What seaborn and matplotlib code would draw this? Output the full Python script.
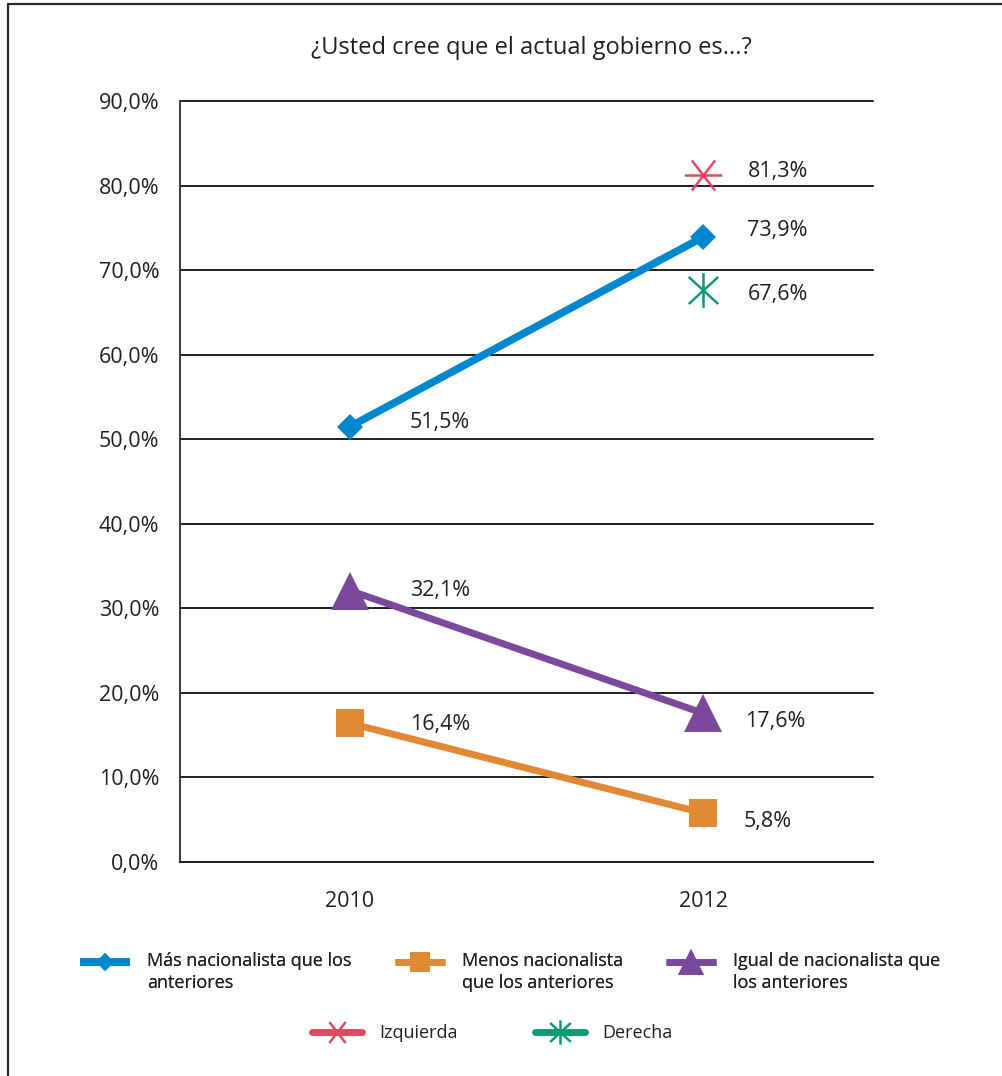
import matplotlib
matplotlib.use("Agg")
import numpy as np
import matplotlib.pyplot as plt
import seaborn as sns
import pandas as pd
from matplotlib.path import Path
from matplotlib.lines import Line2D
from matplotlib.legend_handler import HandlerLine2D

# ---- data ----
years = ["2010", "2012"]
mas_nac = [51.5, 73.9]
menos_nac = [16.4, 5.8]
igual_nac = [32.1, 17.6]
izquierda_year = ["2012"]
izquierda = [81.3]
derecha_year = ["2012"]
derecha = [67.6]
y_ticks = [0, 10, 20, 30, 40, 50, 60, 70, 80, 90]

label_mas = "Más nacionalista que los\nanteriores"
label_menos = "Menos nacionalista\nque los anteriores"
label_igual = "Igual de nacionalista que\nlos anteriores"
label_izq = "Izquierda"
label_der = "Derecha"
title = "¿Usted cree que el actual gobierno es...?"

# ---- style ----
sns.set_theme(style="white")
plt.rcParams['font.family'] = ['Open Sans', 'DejaVu Sans']
TXT = "#231f20"

c_blue = "#0088cf"
c_orange = "#e18835"
c_purple = "#7b489b"
c_red = "#df4a60"
c_green = "#0d9b76"

# custom asterisk markers
red_marker = Path([(-1, 0), (1, 0), (-0.62, -0.8), (0.62, 0.8), (-0.62, 0.8), (0.62, -0.8)],
                  [Path.MOVETO, Path.LINETO, Path.MOVETO, Path.LINETO, Path.MOVETO, Path.LINETO])
green_marker = Path([(0, -1), (0, 1), (-0.85, -0.78), (0.85, 0.78), (-0.85, 0.78), (0.85, -0.78)],
                    [Path.MOVETO, Path.LINETO, Path.MOVETO, Path.LINETO, Path.MOVETO, Path.LINETO])


class RaisedHandler(HandlerLine2D):
    """Line handle aligned with the first line of a two-line label."""
    def __init__(self, dy, **kw):
        super().__init__(**kw)
        self.dy = dy

    def create_artists(self, legend, orig_handle, xdescent, ydescent, width, height,
                       fontsize, trans):
        arts = super().create_artists(legend, orig_handle, xdescent, ydescent, width,
                                      height, fontsize, trans)
        for a in arts:
            a.set_ydata(np.asarray(a.get_ydata(), dtype=float) + self.dy * fontsize)
        return arts


fig = plt.figure(figsize=(10.02, 10.76), dpi=100)
ax = fig.add_axes([0.1796, 0.1989, 0.8713 - 0.1796, 0.9061 - 0.1989])

df_mas = pd.DataFrame({"x": years, "y": mas_nac})
df_menos = pd.DataFrame({"x": years, "y": menos_nac})
df_igual = pd.DataFrame({"x": years, "y": igual_nac})
df_izq = pd.DataFrame({"x": izquierda_year, "y": izquierda})
df_der = pd.DataFrame({"x": derecha_year, "y": derecha})

sns.lineplot(data=df_mas, x="x", y="y", ax=ax, color=c_blue, linewidth=5.5,
             marker="D", markersize=13.5, markeredgewidth=0, label=label_mas,
             solid_capstyle="butt", sort=False)
sns.lineplot(data=df_menos, x="x", y="y", ax=ax, color=c_orange, linewidth=5,
             marker="s", markersize=20, markeredgewidth=0, label=label_menos,
             solid_capstyle="butt", sort=False)
sns.lineplot(data=df_igual, x="x", y="y", ax=ax, color=c_purple, linewidth=5,
             marker="^", markersize=27, markeredgewidth=0, label=label_igual,
             solid_capstyle="butt", sort=False)
sns.lineplot(data=df_izq, x="x", y="y", ax=ax, color=c_red, linewidth=5,
             marker=red_marker, markersize=27, markerfacecolor="none",
             markeredgecolor=c_red, markeredgewidth=1.8, label=label_izq, sort=False)
sns.lineplot(data=df_der, x="x", y="y", ax=ax, color=c_green, linewidth=5,
             marker=green_marker, markersize=25, markerfacecolor="none",
             markeredgecolor=c_green, markeredgewidth=1.8, label=label_der, sort=False)

# data labels
fmt = lambda v: f"{v:.1f}%".replace(".", ",")
label_specs = [
    (years, mas_nac, [(43, 3), (32, 5)]),
    (years, menos_nac, [(43, -1), (29, -6)]),
    (years, igual_nac, [(43, 0), (30, -6)]),
    (izquierda_year, izquierda, [(32, 2)]),
    (derecha_year, derecha, [(32, -3)]),
]
pos = {y: i for i, y in enumerate(years)}
for xs, vals, offs in label_specs:
    for xv, v, (dx, dy) in zip(xs, vals, offs):
        ax.annotate(fmt(v), xy=(pos[xv], v), xytext=(dx, dy), textcoords="offset points",
                    ha="left", va="center", fontsize=15.5, color=TXT)

ax.set_xlim(-0.482, 1.482)
ax.set_ylim(0, 90)
ax.set_yticks(y_ticks)
ax.set_yticklabels([fmt(t) for t in y_ticks])
ax.set_xlabel("")
ax.set_ylabel("")
ax.tick_params(axis="both", length=0, labelsize=15.5, colors=TXT)
ax.tick_params(axis="y", pad=15)
ax.tick_params(axis="x", pad=21)

ax.grid(axis="y", color=TXT, linewidth=1.4)
ax.grid(axis="x", visible=False)
for gl in ax.get_ygridlines():
    gl.set_clip_on(False)
for s in ["top", "right"]:
    ax.spines[s].set_visible(False)
ax.spines["left"].set_color("#3a3a3a")
ax.spines["left"].set_linewidth(1.4)
ax.spines["bottom"].set_color(TXT)
ax.spines["bottom"].set_linewidth(1.4)

fig.text(0.53, 1 - 48 / 1076, title, ha="center", va="center", fontsize=17, color=TXT)

# legends
handles, labels = ax.get_legend_handles_labels()
ax.get_legend().remove()
raised = {h: RaisedHandler(0.6) for h in handles[:3]}
leg1 = fig.legend(handles[:3], labels[:3], ncol=3, loc="center",
                  bbox_to_anchor=(0.509, 1 - 972 / 1076), frameon=False,
                  fontsize=13, handlelength=2.77, handletextpad=0.94,
                  columnspacing=2.4, markerscale=0.7, labelcolor=TXT,
                  handler_map=raised)
for t in leg1.get_texts():
    t.set_linespacing(1.3)
leg2 = fig.legend(handles[3:], labels[3:], ncol=2, loc="center",
                  bbox_to_anchor=(0.491, 1 - 1033 / 1076), frameon=False,
                  fontsize=13, handlelength=2.77, handletextpad=0.94,
                  columnspacing=4.3, markerscale=0.7, labelcolor=TXT)
fig.add_artist(leg1)

# figure border (top and left)
fig.add_artist(Line2D([8 / 1002, 1], [1 - 4 / 1076, 1 - 4 / 1076], transform=fig.transFigure,
                      color="#2b2b2b", linewidth=1.6))
fig.add_artist(Line2D([8 / 1002, 8 / 1002], [0, 1 - 4 / 1076], transform=fig.transFigure,
                      color="#2b2b2b", linewidth=1.6))

fig.savefig("out.png", dpi=100)
